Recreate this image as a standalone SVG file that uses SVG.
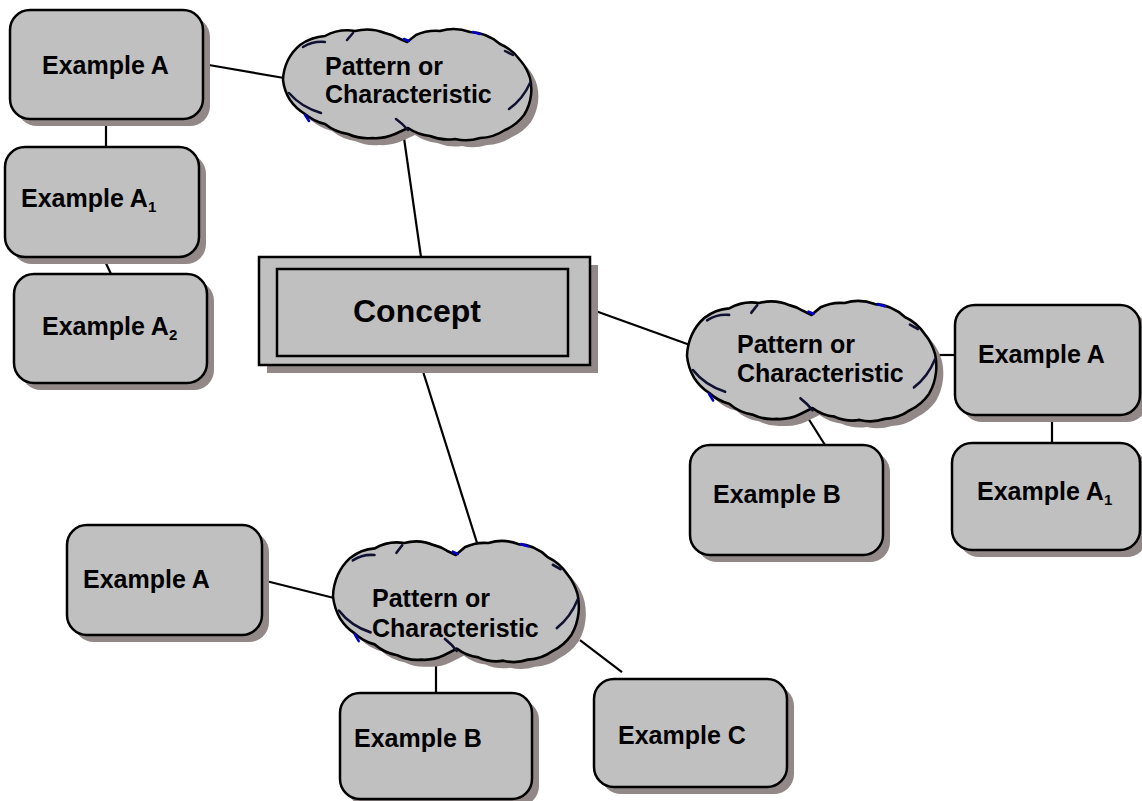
<svg xmlns="http://www.w3.org/2000/svg" xmlns:xlink="http://www.w3.org/1999/xlink" width="1142" height="801" viewBox="0 0 1142 801">
<style>
  .box { fill: #c0c0c0; stroke: #000; stroke-width: 2.5; }
  .shadow { fill: #928888; stroke: none; }
  .cfill { fill: #c0c0c0; stroke: #000; stroke-width: 2.5; stroke-linejoin: round; }
  .cshadow { fill: #928888; stroke: none; }
  .inner { fill: none; stroke: #111133; stroke-width: 2.5; stroke-linecap: round; }
  .blue { fill: none; stroke: #0000cc; stroke-width: 2.5; stroke-linecap: round; }
  .conn line { stroke: #000; stroke-width: 2.2; }
  text { font-family: "Liberation Sans", Arial, sans-serif; font-weight: bold; font-size: 25px; fill: #000; }
  .big { font-size: 32px; }
  .sub { font-size: 15px; }
</style>
<defs>
  <path id="cloud" d="M0,49 A48,48 0 0 1 5,29 A48,48 0 0 1 17,14 A48,48 0 0 1 42,5 A48,48 0 0 1 72,0 A48,48 0 0 1 102,2 A48,48 0 0 1 115,7 L124,11 L133,4 A48,48 0 0 1 157,0 A48,48 0 0 1 187,1 A48,48 0 0 1 217,13 A48,48 0 0 1 237,29 A48,48 0 0 1 247,47 A48,48 0 0 1 248,64 A48,48 0 0 1 241,84 A48,48 0 0 1 222,99 A48,48 0 0 1 197,107 A48,48 0 0 1 172,108 A48,48 0 0 1 147,105 A48,48 0 0 1 125,97 L112,103 A48,48 0 0 1 89,107 A48,48 0 0 1 65,103 A48,48 0 0 1 42,93 A48,48 0 0 1 22,83 A48,48 0 0 1 7,69 A48,48 0 0 1 0,49 Z"/>
  <g id="cloudlines">
    <path class="inner" d="M20,16 Q30,10 42,11"/>
    <path class="inner" d="M64,9 L70,2"/>
    <path class="inner" d="M6,62 Q18,76 38,82"/>
    <path class="inner" d="M113,88 Q120,93 125,99"/>
    <path class="inner" d="M226,78 Q240,68 247,52"/>
    <path class="inner" d="M222,20 L230,24"/>
    <path class="blue" d="M121,8 L126,10"/>
    <path class="blue" d="M190,1 L197,3"/>
    <path class="blue" d="M22,84 L26,90"/>
  </g>
</defs>

<g id="connectors" class="conn">
  <line x1="203" y1="64" x2="284" y2="78"/>
  <line x1="106" y1="119" x2="106" y2="147"/>
  <line x1="103" y1="257" x2="111" y2="274"/>
  <line x1="404" y1="138" x2="421" y2="257"/>
  <line x1="590" y1="309" x2="690" y2="345"/>
  <line x1="421" y1="365" x2="478" y2="546"/>
  <line x1="938" y1="355" x2="955" y2="355"/>
  <line x1="1052" y1="415" x2="1052" y2="443"/>
  <line x1="808" y1="418" x2="825" y2="445"/>
  <line x1="262" y1="580" x2="334" y2="598"/>
  <line x1="436" y1="660" x2="436" y2="693"/>
  <line x1="580" y1="640" x2="622" y2="672"/>
</g>

<g id="exA-top">
  <rect class="shadow" x="17" y="17" width="193" height="109" rx="20"/>
  <rect class="box" x="10" y="10" width="193" height="109" rx="20"/>
  <text x="42" y="74">Example A</text>
</g>
<g id="exA1-left">
  <rect class="shadow" x="12" y="154" width="194" height="110" rx="20"/>
  <rect class="box" x="5" y="147" width="194" height="110" rx="20"/>
  <text x="21" y="207">Example A<tspan class="sub" dy="5">1</tspan></text>
</g>
<g id="exA2-left">
  <rect class="shadow" x="21" y="281" width="193" height="109" rx="20"/>
  <rect class="box" x="14" y="274" width="193" height="109" rx="20"/>
  <text x="42" y="335">Example A<tspan class="sub" dy="5">2</tspan></text>
</g>

<g id="cloud-top">
  <use xlink:href="#cloud" class="cshadow" transform="translate(290,38)"/>
  <use xlink:href="#cloud" class="cfill" transform="translate(283,31)"/>
  <use xlink:href="#cloudlines" transform="translate(283,31)"/>
  <text x="325" y="75">Pattern or</text>
  <text x="325" y="103">Characteristic</text>
</g>

<g id="concept">
  <rect class="shadow" x="267" y="265" width="331" height="108"/>
  <rect class="box" x="259" y="257" width="331" height="108"/>
  <rect class="box" x="277" y="269" width="291" height="87"/>
  <text class="big" x="353" y="322">Concept</text>
</g>

<g id="cloud-right">
  <use xlink:href="#cloud" class="cshadow" transform="translate(694,310) scale(1.004,1.083)"/>
  <use xlink:href="#cloud" class="cfill" transform="translate(687,303) scale(1.004,1.083)"/>
  <use xlink:href="#cloudlines" transform="translate(687,303) scale(1.004,1.083)"/>
  <text x="737" y="353">Pattern or</text>
  <text x="737" y="382">Characteristic</text>
</g>

<g id="exA-right">
  <rect class="shadow" x="962" y="312" width="185" height="110" rx="20"/>
  <rect class="box" x="955" y="305" width="185" height="110" rx="20"/>
  <text x="978" y="363">Example A</text>
</g>
<g id="exA1-right">
  <rect class="shadow" x="959" y="450" width="188" height="107" rx="20"/>
  <rect class="box" x="952" y="443" width="188" height="107" rx="20"/>
  <text x="977" y="500">Example A<tspan class="sub" dy="5">1</tspan></text>
</g>
<g id="exB-right">
  <rect class="shadow" x="697" y="452" width="193" height="110" rx="20"/>
  <rect class="box" x="690" y="445" width="193" height="110" rx="20"/>
  <text x="713" y="503">Example B</text>
</g>

<g id="cloud-bottom">
  <use xlink:href="#cloud" class="cshadow" transform="translate(340,550) scale(0.99,1.09)"/>
  <use xlink:href="#cloud" class="cfill" transform="translate(333,543) scale(0.99,1.09)"/>
  <use xlink:href="#cloudlines" transform="translate(333,543) scale(0.99,1.09)"/>
  <text x="372" y="607">Pattern or</text>
  <text x="372" y="637">Characteristic</text>
</g>

<g id="exA-bottom">
  <rect class="shadow" x="74" y="532" width="195" height="110" rx="20"/>
  <rect class="box" x="67" y="525" width="195" height="110" rx="20"/>
  <text x="83" y="588">Example A</text>
</g>
<g id="exB-bottom">
  <rect class="shadow" x="347" y="700" width="192" height="106" rx="20"/>
  <rect class="box" x="340" y="693" width="192" height="106" rx="20"/>
  <text x="354" y="747">Example B</text>
</g>
<g id="exC-bottom">
  <rect class="shadow" x="601" y="686" width="193" height="108" rx="20"/>
  <rect class="box" x="594" y="679" width="193" height="108" rx="20"/>
  <text x="618" y="744">Example C</text>
</g>
</svg>
